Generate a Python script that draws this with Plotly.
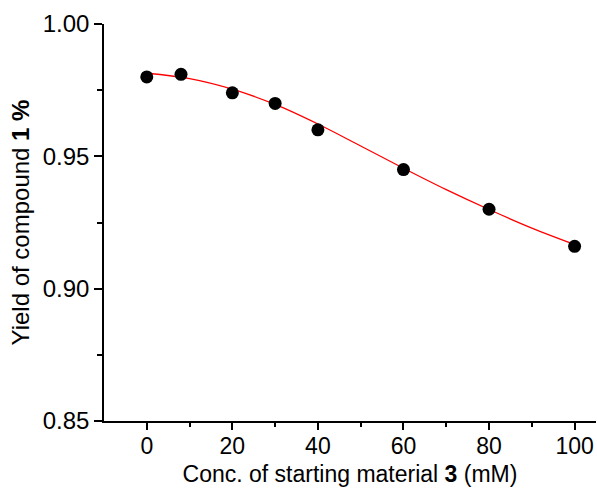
import plotly.graph_objects as go

# measured points
conc = [0, 8, 20, 30, 40, 60, 80, 100]
yield_vals = [0.980, 0.981, 0.974, 0.970, 0.960, 0.945, 0.930, 0.916]

# fitted curve
fit_x = [0, 10, 20, 30, 40, 50, 60, 70, 80, 90, 100]
fit_y = [0.9814, 0.9794, 0.9754, 0.9696, 0.9622, 0.9539, 0.9455, 0.9374, 0.9299, 0.9229, 0.9167]

x_ticks = [0, 20, 40, 60, 80, 100]
y_ticks = [0.85, 0.90, 0.95, 1.00]

FONT = "Liberation Sans, Arial, sans-serif"

fig = go.Figure()
fig.add_trace(go.Scatter(x=fit_x, y=fit_y, mode="lines", line=dict(color="red", width=1.3, shape="spline"),
                         hoverinfo="skip"))
fig.add_trace(go.Scatter(x=conc, y=yield_vals, mode="markers", marker=dict(color="black", size=13)))

fig.update_layout(
    width=597, height=488,
    margin=dict(l=104, r=1, t=24, b=67),
    paper_bgcolor="white", plot_bgcolor="white",
    showlegend=False,
    font=dict(family=FONT, size=24, color="black"),
)
fig.update_xaxes(
    range=[-10, 105], tickvals=x_ticks, ticktext=[str(v) for v in x_ticks],
    showgrid=False, zeroline=False, showline=True, linecolor="black", linewidth=1.5,
    ticks="outside", ticklen=7, tickwidth=1.5, tickcolor="black",
    minor=dict(tickvals=[10, 30, 50, 70, 90], ticks="outside", ticklen=4, tickwidth=1.5, tickcolor="black"),
    title=dict(text="Conc. of starting material <b>3</b> (mM)", standoff=8, font=dict(size=23)),
    tickfont=dict(size=23),
    ticklabelstandoff=-3,
)
fig.update_yaxes(
    range=[0.85, 1.00], tickvals=y_ticks, ticktext=["%.2f" % v for v in y_ticks],
    showgrid=False, zeroline=False, showline=True, linecolor="black", linewidth=1.5,
    ticks="outside", ticklen=8, tickwidth=1.5, tickcolor="black",
    minor=dict(tickvals=[0.875, 0.925, 0.975], ticks="outside", ticklen=5, tickwidth=1.5, tickcolor="black"),
    title=dict(text="Yield of compound <b>1 %</b>", standoff=6, font=dict(size=24)),
    tickfont=dict(size=24),
)
fig.write_html("out.html")
